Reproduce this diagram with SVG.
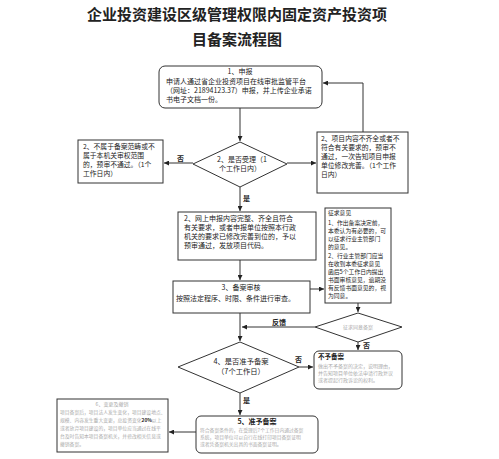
<svg xmlns="http://www.w3.org/2000/svg" width="499" height="459" viewBox="0 0 499 459">
<defs>
<marker id="ah" viewBox="0 0 6 6" refX="6" refY="3" markerWidth="5" markerHeight="5" orient="auto" markerUnits="userSpaceOnUse">
<path d="M0,0 L6,3 L0,6 z" fill="#222"/>
</marker>
<style>
.t{font-family:"Noto Sans CJK SC","Liberation Sans",sans-serif;fill:#222}
.b{fill:#fff;stroke:#333;stroke-width:1}
.c{fill:none;stroke:#333;stroke-width:1}
.lab{font-family:"Noto Sans CJK SC",sans-serif;font-size:7px;font-weight:bold;fill:#222}
.gr{fill:#aaa}
</style>
</defs>
<rect width="499" height="459" fill="#fff"/>
<g id="title" class="t" font-weight="bold" font-size="15" text-anchor="middle">
<text x="237" y="20">企业投资建设区级管理权限内固定资产投资项</text>
<text x="237" y="45">目备案流程图</text>
</g>
<g id="connectors">
<path class="c" d="M240,108 V141" marker-end="url(#ah)"/>
<path class="c" d="M193,163 H164" marker-end="url(#ah)"/>
<path class="c" d="M287,163 H316" marker-end="url(#ah)"/>
<path class="c" d="M363,132 V83 H323" marker-end="url(#ah)"/>
<path class="c" d="M240,187 V211" marker-end="url(#ah)"/>
<path class="c" d="M240,260 V280" marker-end="url(#ah)"/>
<path class="c" d="M310,289 H324" marker-end="url(#ah)"/>
<path class="c" d="M358,303 V312" marker-end="url(#ah)"/>
<path class="c" d="M240,313 V341" marker-end="url(#ah)"/>
<path class="c" d="M315,327 H242" marker-end="url(#ah)"/>
<path class="c" d="M358,342 V350" marker-end="url(#ah)"/>
<path class="c" d="M299,367 H313" marker-end="url(#ah)"/>
<path class="c" d="M240,393 V415" marker-end="url(#ah)"/>
<path class="c" d="M196,432 H169" marker-end="url(#ah)"/>
<text class="lab" x="177" y="161">否</text>
<text class="lab" x="243" y="201">是</text>
<text class="lab" x="272" y="325">反馈</text>
<text class="lab" x="363" y="348">否</text>
<text class="lab" x="295" y="362">否</text>
<text class="lab" x="243" y="403">是</text>
</g>
<g id="n1">
<rect class="b" x="159" y="66" width="163" height="42" rx="6"/>
<g class="t" font-size="7">
<text x="240" y="74" text-anchor="middle">1、申报</text>
<text x="166" y="83.5">申请人通过省企业投资项目在线审批监管平台</text>
<text x="166" y="92.5">（网址：21894123.37）申报，并上传企业承诺</text>
<text x="166" y="101.5">书电子文档一份。</text>
</g>
</g>
<g id="n2">
<path class="b" d="M240,142 L287,164 L240,187 L193,164 Z"/>
<g class="t" font-size="7">
<text x="242" y="162" text-anchor="middle">2、是否受理（1</text>
<text x="240" y="171" text-anchor="middle">个工作日内）</text>
</g>
</g>
<g id="n2a">
<rect class="b" x="78" y="140" width="85" height="43"/>
<g class="t" font-size="6.8">
<text x="83" y="149">2、不属于备案范畴或不</text>
<text x="83" y="158">属于本机关审权范围</text>
<text x="83" y="167">的，预审不通过。（1个</text>
<text x="83" y="176">工作日内）</text>
</g>
</g>
<g id="n2b">
<rect class="b" x="317" y="132" width="91" height="61"/>
<g class="t" font-size="6.8">
<text x="321" y="141">2、项目内容不齐全或者不</text>
<text x="321" y="150">符合有关要求的，预审不</text>
<text x="321" y="159">通过，一次告知项目申报</text>
<text x="321" y="168">单位修改完善。（1个工作</text>
<text x="321" y="177">日内）</text>
</g>
</g>
<g id="n2c">
<rect class="b" x="178" y="212" width="138" height="48"/>
<g class="t" font-size="7">
<text x="184" y="221">2、网上申报内容完整、齐全且符合</text>
<text x="184" y="230">有关要求，或者申报单位按照本行政</text>
<text x="184" y="239">机关的要求已修改完善到位的，予以</text>
<text x="184" y="248">预审通过，发放项目代码。</text>
</g>
</g>
<g id="n3">
<rect class="b" x="173" y="281" width="137" height="32"/>
<g class="t" font-size="7">
<text x="241" y="290" text-anchor="middle">3、备案审核</text>
<text x="176" y="301">按照法定程序、时限、条件进行审查。</text>
</g>
</g>
<g id="n3a">
<rect class="b" x="325" y="208" width="66" height="95"/>
<g class="t" font-size="5.8">
<text x="328" y="215">征求意见</text>
<text x="328" y="225">1、作出备案决定前，</text>
<text x="328" y="233">本委认为有必要的，可</text>
<text x="328" y="241">以征求行业主管部门</text>
<text x="328" y="249">的意见。</text>
<text x="328" y="258">2、行业主管部门应当</text>
<text x="328" y="266">在收到本委征求意见</text>
<text x="328" y="274">函后5个工作日内提出</text>
<text x="328" y="282">书面审核意见，逾期没</text>
<text x="328" y="290">有反馈书面意见的，视</text>
<text x="328" y="298">为同意。</text>
</g>
</g>
<g id="n3b">
<path class="b" d="M358,313 L402,327 L358,342 L315,327 Z"/>
<text class="t gr" font-size="5" x="358" y="329" text-anchor="middle">征求同意备案</text>
</g>
<g id="n4">
<path class="b" d="M240,342 L299,367 L240,393 L178,367 Z"/>
<g class="t" font-size="7.3">
<text x="241" y="364" text-anchor="middle">4、是否准予备案</text>
<text x="241" y="374" text-anchor="middle">（7个工作日）</text>
</g>
</g>
<g id="n4a">
<rect class="b" x="314" y="351" width="88" height="38" rx="5"/>
<text class="t" font-size="6.5" font-weight="bold" x="318" y="359">不予备案</text>
<g class="t gr" font-size="5">
<text x="318" y="368">做出不予备案的决定，说明理由，</text>
<text x="318" y="375">并告知项目单位依法申请行政复议</text>
<text x="318" y="382">或者提起行政诉讼的权利。</text>
</g>
</g>
<g id="n5">
<rect class="b" x="196" y="416" width="122" height="37" rx="5"/>
<text class="t" font-size="7" font-weight="bold" x="257" y="424" text-anchor="middle">5、准予备案</text>
<g class="t gr" font-size="4.8">
<text x="200" y="432">符合备案条件的，在受理后7个工作日内通过备案</text>
<text x="200" y="439">系统，项目单位可以自行在线打印项目备案证明</text>
<text x="200" y="446">或者凭备案机关出具的书面备案证明。</text>
</g>
</g>
<g id="n6">
<rect class="b" x="57" y="399" width="111" height="53"/>
<text class="t gr" font-size="5" x="112" y="406" text-anchor="middle">6、变更及撤销</text>
<g class="t gr" font-size="4.8">
<text x="60" y="414">项目备案后，项目法人发生变化，项目建设地点、</text>
<text x="60" y="422">规模、内容发生重大变更，总投资变化<tspan style="fill:#222;font-weight:bold">20%</tspan>以上</text>
<text x="60" y="430">或者放弃项目建设的，项目单位应当通过在线平</text>
<text x="60" y="438">台及时告知本项目备案机关，并修改相关信息或</text>
<text x="60" y="446">撤销备案。</text>
</g>
</g>
</svg>
